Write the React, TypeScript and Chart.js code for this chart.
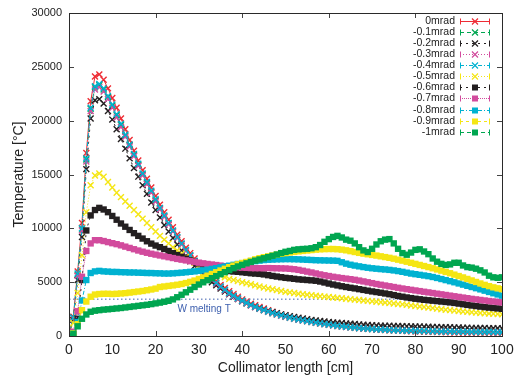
import React, { useEffect, useRef } from 'react';
import { Chart, registerables } from 'chart.js';

Chart.register(...registerables);

// Collimator length sample positions [cm]
const positions: number[] = Array.from({ length: 101 }, (_, i) => i);

const seriesLabels = ['0mrad', '-0.1mrad', '-0.2mrad', '-0.3mrad', '-0.4mrad', '-0.5mrad', '-0.6mrad', '-0.7mrad', '-0.8mrad', '-0.9mrad', '-1mrad'];
const seriesColors = ['#ee2c34', '#00a651', '#231f20', '#d24b9d', '#00b2d1', '#f5e614', '#231f20', '#d24b9d', '#00b2d1', '#f5e614', '#00a650'];
const seriesMarkers = ['crossRot', 'crossRot', 'crossRot', 'crossRot', 'crossRot', 'crossRot', 'rect', 'rect', 'rect', 'rect', 'rect'];
const seriesDashes: number[][] = [[], [4, 3], [2, 4], [1, 2], [4, 2, 1, 2], [1, 2], [2, 4], [1, 1], [4, 2, 1, 2], [3, 3], [4, 3]];

const t0: number[] = [
  200, 1800, 6000, 10500, 17000, 21800, 24100, 24300, 23800, 23000, 22100,
  21200, 20200, 19200, 18200, 17200, 16300, 15400, 14600, 13800, 13000,
  12200, 11500, 10800, 10100, 9400, 8800, 8200, 7700, 7200, 6700,
  6250, 5850, 5450, 5100, 4750, 4450, 4150, 3900, 3650, 3400,
  3200, 3000, 2850, 2700, 2550, 2400, 2250, 2120, 2000, 1880,
  1770, 1670, 1580, 1490, 1410, 1330, 1260, 1190, 1130, 1070,
  1010, 960, 910, 860, 820, 780, 740, 700, 670, 640,
  610, 580, 560, 540, 520, 500, 480, 460, 445, 432,
  420, 405, 395, 385, 372, 360, 350, 340, 330, 322,
  315, 308, 300, 294, 288, 282, 276, 270, 265, 260,
];
const t01: number[] = [
  200, 1700, 5700, 9900, 16400, 21100, 23100, 23300, 22900, 22200, 21400,
  20500, 19600, 18600, 17700, 16800, 15900, 15000, 14200, 13400, 12600,
  11850, 11150, 10450, 9750, 9150, 8550, 7950, 7450, 6950, 6500,
  6050, 5650, 5250, 4900, 4560, 4260, 3960, 3710, 3470, 3250,
  3050, 2860, 2690, 2530, 2390, 2250, 2120, 2000, 1890, 1790,
  1700, 1610, 1520, 1440, 1370, 1300, 1230, 1160, 1100, 1040,
  985, 935, 885, 845, 805, 765, 728, 698, 668, 640,
  612, 592, 572, 552, 534, 522, 508, 494, 484, 474,
  464, 454, 444, 434, 426, 419, 412, 404, 397, 391,
  386, 381, 376, 372, 368, 364, 361, 358, 355, 352,
];
const t02: number[] = [
  150, 1500, 5200, 9200, 15500, 20200, 21900, 22000, 21600, 20900, 20100,
  19200, 18300, 17400, 16500, 15600, 14800, 14000, 13200, 12400, 11700,
  11000, 10300, 9700, 9100, 8500, 7950, 7450, 6950, 6500, 6100,
  5700, 5350, 5000, 4700, 4400, 4130, 3880, 3650, 3430, 3230,
  3050, 2880, 2720, 2580, 2450, 2330, 2220, 2110, 2010, 1920,
  1840, 1760, 1690, 1620, 1560, 1500, 1450, 1400, 1350, 1300,
  1260, 1230, 1200, 1170, 1140, 1110, 1080, 1050, 1020, 995,
  975, 965, 955, 945, 935, 925, 915, 905, 895, 885,
  875, 865, 855, 845, 835, 825, 815, 805, 795, 785,
  775, 765, 757, 750, 743, 736, 729, 722, 716, 710,
];
const t03: number[] = [
  180, 1650, 5600, 9800, 16200, 20900, 22900, 23100, 22700, 22000, 21200,
  20300, 19400, 18500, 17600, 16700, 15800, 14900, 14100, 13300, 12500,
  11750, 11050, 10350, 9700, 9100, 8500, 7900, 7400, 6900, 6450,
  6000, 5600, 5200, 4850, 4520, 4220, 3930, 3680, 3440, 3220,
  3030, 2840, 2670, 2520, 2380, 2240, 2110, 1990, 1880, 1780,
  1690, 1600, 1510, 1430, 1360, 1290, 1220, 1155, 1095, 1035,
  980, 930, 880, 840, 800, 762, 725, 695, 665, 637,
  610, 590, 570, 550, 532, 520, 506, 492, 482, 472,
  462, 452, 442, 432, 424, 417, 410, 402, 395, 389,
  384, 379, 374, 370, 366, 362, 359, 356, 353, 350,
];
const t04: number[] = [
  200, 1700, 5800, 10000, 16500, 21200, 23200, 23400, 23000, 22300, 21500,
  20600, 19700, 18700, 17800, 16900, 16000, 15100, 14300, 13500, 12700,
  11900, 11200, 10500, 9800, 9200, 8600, 8000, 7500, 7000, 6550,
  6100, 5700, 5300, 4950, 4600, 4300, 4000, 3750, 3500, 3280,
  3080, 2890, 2720, 2560, 2420, 2280, 2150, 2030, 1920, 1820,
  1720, 1630, 1540, 1460, 1390, 1320, 1250, 1180, 1120, 1060,
  1000, 950, 900, 860, 820, 780, 740, 710, 680, 650,
  620, 600, 580, 560, 540, 525, 512, 500, 490, 480,
  470, 460, 450, 440, 432, 425, 418, 410, 403, 397,
  392, 387, 382, 378, 374, 370, 367, 364, 361, 358,
];
const t05: number[] = [
  100, 1200, 4000, 7500, 11500, 14000, 14900, 15100, 14800, 14300, 13800,
  13300, 12900, 12500, 12100, 11700, 11300, 10900, 10500, 10100, 9700,
  9300, 8950, 8600, 8250, 7950, 7650, 7350, 7050, 6800, 6550,
  6350, 6150, 5950, 5750, 5600, 5450, 5300, 5200, 5100, 5000,
  4900, 4800, 4700, 4600, 4500, 4420, 4340, 4260, 4180, 4100,
  4050, 3990, 3930, 3880, 3830, 3790, 3740, 3700, 3660, 3620,
  3580, 3540, 3500, 3460, 3420, 3380, 3340, 3300, 3260, 3220,
  3180, 3140, 3100, 3060, 3020, 2980, 2940, 2890, 2840, 2790,
  2740, 2690, 2640, 2590, 2540, 2490, 2440, 2400, 2360, 2320,
  2280, 2240, 2200, 2170, 2140, 2110, 2080, 2060, 2040, 2020,
];
const t06: number[] = [
  0, 300, 1600, 5200, 9800, 11200, 11700, 11900, 11750, 11500, 11150,
  10800, 10450, 10150, 9850, 9550, 9300, 9050, 8800, 8580, 8400,
  8250, 8080, 7900, 7700, 7520, 7350, 7180, 7020, 6880, 6750,
  6620, 6500, 6380, 6270, 6170, 6080, 6030, 5990, 5960, 5920,
  5880, 5830, 5800, 5770, 5720, 5650, 5580, 5520, 5460, 5400,
  5360, 5310, 5260, 5230, 5200, 5170, 5130, 5060, 4970, 4870,
  4780, 4700, 4620, 4550, 4480, 4420, 4350, 4280, 4210, 4140,
  4080, 4020, 3950, 3880, 3800, 3720, 3650, 3580, 3520, 3460,
  3410, 3360, 3320, 3280, 3240, 3200, 3160, 3120, 3070, 3010,
  2950, 2890, 2830, 2780, 2730, 2680, 2640, 2600, 2560, 2520,
];
const t07: number[] = [
  0, 400, 2300, 5500, 7900, 8600, 8900, 8900, 8820, 8720, 8620,
  8530, 8420, 8300, 8180, 8060, 7940, 7830, 7730, 7640, 7560,
  7480, 7400, 7320, 7240, 7160, 7090, 7020, 6950, 6880, 6810,
  6750, 6690, 6640, 6590, 6540, 6490, 6450, 6410, 6380, 6350,
  6330, 6310, 6300, 6300, 6300, 6310, 6300, 6290, 6280, 6270,
  6240, 6200, 6140, 6060, 5980, 5900, 5810, 5720, 5640, 5570,
  5500, 5440, 5380, 5330, 5280, 5220, 5150, 5070, 4990, 4910,
  4830, 4760, 4690, 4620, 4550, 4480, 4410, 4350, 4290, 4230,
  4170, 4110, 4050, 3990, 3930, 3870, 3810, 3750, 3690, 3630,
  3570, 3510, 3450, 3400, 3350, 3300, 3250, 3200, 3160, 3120,
];
const t08: number[] = [
  0, 250, 1300, 3300, 5200, 5850, 6000, 6050, 6000, 5980, 5950,
  5950, 5930, 5920, 5900, 5900, 5880, 5870, 5850, 5850, 5830,
  5820, 5800, 5800, 5820, 5850, 5880, 5920, 5960, 6000, 6050,
  6100, 6160, 6230, 6300, 6380, 6450, 6530, 6610, 6690, 6770,
  6840, 6900, 6950, 7000, 7050, 7080, 7100, 7120, 7130, 7140,
  7140, 7130, 7120, 7100, 7080, 7060, 7040, 7030, 7020, 7010,
  7000, 6980, 6850, 6720, 6620, 6540, 6470, 6400, 6340, 6290,
  6250, 6210, 6180, 6140, 6090, 6030, 5960, 5880, 5800, 5740,
  5680, 5620, 5560, 5480, 5390, 5290, 5190, 5090, 4990, 4880,
  4770, 4660, 4550, 4440, 4330, 4210, 4090, 3970, 3860, 3750,
];
const t09: number[] = [
  0, 250, 1100, 2400, 3200, 3650, 3850, 3900, 3920, 3920, 3900,
  3920, 3950, 3980, 4030, 4080, 4130, 4180, 4250, 4320, 4400,
  4550, 4600, 4650, 4700, 4760, 4830, 4920, 5030, 5150, 5300,
  5450, 5600, 5760, 5920, 6080, 6240, 6390, 6530, 6660, 6780,
  6880, 7000, 7120, 7230, 7320, 7400, 7480, 7560, 7640, 7700,
  7760, 7810, 7860, 7900, 7940, 7980, 8020, 8050, 8070, 8080,
  8080, 8060, 8020, 7960, 7880, 7800, 7720, 7650, 7590, 7530,
  7470, 7400, 7330, 7260, 7180, 7090, 7000, 6900, 6800, 6700,
  6600, 6500, 6400, 6290, 6180, 6070, 5950, 5830, 5700, 5570,
  5440, 5300, 5160, 5020, 4880, 4750, 4630, 4520, 4430, 4350,
];
const t10: number[] = [
  0, 200, 900, 1600, 2000, 2250, 2350, 2400, 2450, 2480, 2520,
  2560, 2600, 2650, 2700, 2750, 2800, 2850, 2900, 2960, 3030,
  3100, 3180, 3270, 3400, 3600, 3830, 4060, 4300, 4550, 4780,
  4990, 5180, 5370, 5560, 5740, 5930, 6120, 6300, 6460, 6610,
  6750, 6880, 7000, 7110, 7220, 7330, 7450, 7570, 7700, 7820,
  7900, 8000, 8050, 8080, 8100, 8150, 8250, 8450, 8750, 9000,
  9200, 9300, 9150, 8950, 8850, 8600, 8250, 7950, 7800, 8100,
  8500, 8800, 8950, 9000, 8600, 8100, 7700, 7550, 7750, 8000,
  8050, 7850, 7600, 7200, 6900, 6700, 6600, 6650, 6800, 6800,
  6550, 6400, 6350, 6250, 6100, 5900, 5600, 5450, 5400, 5450,
];

const seriesValues: number[][] = [t0, t01, t02, t03, t04, t05, t06, t07, t08, t09, t10];

const meltingPoint = 3422;
const meltLabel = 'W melting T';
const meltLabelX = 31.2;
const meltColor = '#3d5fae';

const xTickValues = [0, 10, 20, 30, 40, 50, 60, 70, 80, 90, 100];
const FONT = '"Liberation Sans", Arial, Helvetica, sans-serif';

function drawMarker(ctx: CanvasRenderingContext2D, style: string, color: string, x: number, y: number) {
  if (style === 'rect') {
    ctx.fillStyle = color;
    ctx.fillRect(x - 3, y - 3, 6, 6);
  } else {
    ctx.strokeStyle = color;
    ctx.lineWidth = 1.2;
    ctx.beginPath();
    ctx.moveTo(x - 3, y - 3);
    ctx.lineTo(x + 3, y + 3);
    ctx.moveTo(x + 3, y - 3);
    ctx.lineTo(x - 3, y + 3);
    ctx.stroke();
  }
}

const framePlugin = {
  id: 'gnuFrame',
  afterDatasetsDraw(chart: any) {
    const { ctx, chartArea: a, scales } = chart;
    const xs = scales.x;
    const ys = scales.y;
    ctx.save();
    // melting point label
    ctx.font = `10px ${FONT}`;
    ctx.fillStyle = meltColor;
    ctx.textAlign = 'center';
    ctx.textBaseline = 'middle';
    ctx.fillText(meltLabel, xs.getPixelForValue(meltLabelX), ys.getPixelForValue(meltingPoint) + 10);

    // inward ticks
    ctx.strokeStyle = '#444';
    ctx.lineWidth = 1;
    ctx.setLineDash([]);
    ctx.beginPath();
    ys.ticks.forEach((t: any) => {
      const p = Math.round(ys.getPixelForValue(t.value)) + 0.5;
      ctx.moveTo(a.left, p);
      ctx.lineTo(a.left + 5, p);
      ctx.moveTo(a.right, p);
      ctx.lineTo(a.right - 5, p);
    });
    xs.ticks.forEach((t: any) => {
      if (t.value % 20 !== 0) return;
      const p = Math.round(xs.getPixelForValue(t.value)) + 0.5;
      ctx.moveTo(p, a.bottom);
      ctx.lineTo(p, a.bottom - 5);
      ctx.moveTo(p, a.top);
      ctx.lineTo(p, a.top + 5);
    });
    ctx.stroke();

    // frame
    ctx.strokeStyle = '#2a2a2a';
    ctx.lineWidth = 1;
    ctx.strokeRect(Math.round(a.left) + 0.5, Math.round(a.top) + 0.5, Math.round(a.right - a.left), Math.round(a.bottom - a.top));

    // legend
    const textRight = 455;
    const lx1 = 460;
    const lx2 = 490;
    const top = 20.7;
    const step = 11.1;
    seriesLabels.forEach((label, i) => {
      const y = Math.round(top + i * step) + 0.5;
      ctx.font = `10.5px ${FONT}`;
      ctx.fillStyle = '#222';
      ctx.textAlign = 'right';
      ctx.textBaseline = 'middle';
      ctx.fillText(label, textRight, y);
      const c = seriesColors[i];
      ctx.strokeStyle = c;
      ctx.lineWidth = 1;
      ctx.setLineDash(seriesDashes[i]);
      ctx.beginPath();
      ctx.moveTo(lx1, y);
      ctx.lineTo(lx2, y);
      ctx.stroke();
      ctx.setLineDash([]);
      ctx.beginPath();
      ctx.moveTo(lx1 + 0.5, y - 3);
      ctx.lineTo(lx1 + 0.5, y + 3);
      ctx.moveTo(lx2 - 0.5, y - 3);
      ctx.lineTo(lx2 - 0.5, y + 3);
      ctx.stroke();
      drawMarker(ctx, seriesMarkers[i], c, (lx1 + lx2) / 2, y);
    });
    ctx.restore();
  },
};

export default function App() {
  const canvasRef = useRef<HTMLCanvasElement | null>(null);

  useEffect(() => {
    const canvas = canvasRef.current;
    if (!canvas) return;

    const datasets: any[] = seriesValues.map((vals, i) => {
      const isRect = seriesMarkers[i] === 'rect';
      return {
        label: seriesLabels[i],
        data: positions.map((x, j) => ({ x, y: vals[j] })),
        borderColor: seriesColors[i],
        backgroundColor: seriesColors[i],
        pointBackgroundColor: seriesColors[i],
        pointBorderColor: seriesColors[i],
        pointStyle: seriesMarkers[i],
        pointRadius: isRect ? 4.5 : 4.2,
        pointBorderWidth: isRect ? 0 : 1.4,
        borderWidth: 1,
        borderDash: seriesDashes[i],
        tension: 0,
        showLine: true,
        fill: false,
        order: 20 - i,
      };
    });
    datasets.push({
      label: 'melt',
      data: [
        { x: positions[0], y: meltingPoint },
        { x: positions[positions.length - 1], y: meltingPoint },
      ],
      borderColor: meltColor,
      borderWidth: 1,
      borderDash: [1.5, 2.5],
      pointRadius: 0,
      showLine: true,
      fill: false,
      order: 100,
    });

    const chart = new Chart(canvas, {
      type: 'line',
      data: { datasets },
      options: {
        animation: false,
        responsive: false,
        devicePixelRatio: 1,
        layout: { padding: { left: 0, right: 13, top: 13, bottom: 0 } },
        plugins: { legend: { display: false }, tooltip: { enabled: false } },
        scales: {
          x: {
            type: 'linear',
            min: 0,
            max: 100,
            afterBuildTicks: (s: any) => {
              s.ticks = xTickValues.map((v) => ({ value: v }));
            },
            ticks: {
              stepSize: 10,
              font: { family: FONT, size: 14 },
              color: '#222',
              padding: 6,
              maxRotation: 0,
            },
            grid: { display: false, drawTicks: false },
            border: { display: false },
            title: {
              display: true,
              text: 'Collimator length [cm]',
              font: { family: FONT, size: 14 },
              color: '#222',
              padding: { top: 0, bottom: 1.6 },
            },
            afterFit: (s: any) => {
              s.height = 42;
              s.paddingLeft = 0;
              s.paddingRight = 0;
            },
          },
          y: {
            type: 'linear',
            min: 0,
            max: 30000,
            ticks: {
              stepSize: 5000,
              font: { family: FONT, size: 11 },
              color: '#222',
              padding: 7,
              callback: (v: any) => String(v),
            },
            grid: { display: false, drawTicks: false },
            border: { display: false },
            title: {
              display: true,
              text: 'Temperature [°C]',
              font: { family: FONT, size: 14 },
              color: '#222',
              padding: { top: 10.6, bottom: 0 },
            },
            afterFit: (s: any) => {
              s.width = 69;
              s.paddingTop = 0;
              s.paddingBottom = 0;
            },
          },
        },
      },
      plugins: [framePlugin],
    } as any);

    return () => chart.destroy();
  }, []);

  return (
    <div style={{ position: 'absolute', left: 0, top: 0, width: 515, height: 378 }}>
      <canvas ref={canvasRef} width={515} height={378} style={{ display: 'block' }} />
    </div>
  );
}
